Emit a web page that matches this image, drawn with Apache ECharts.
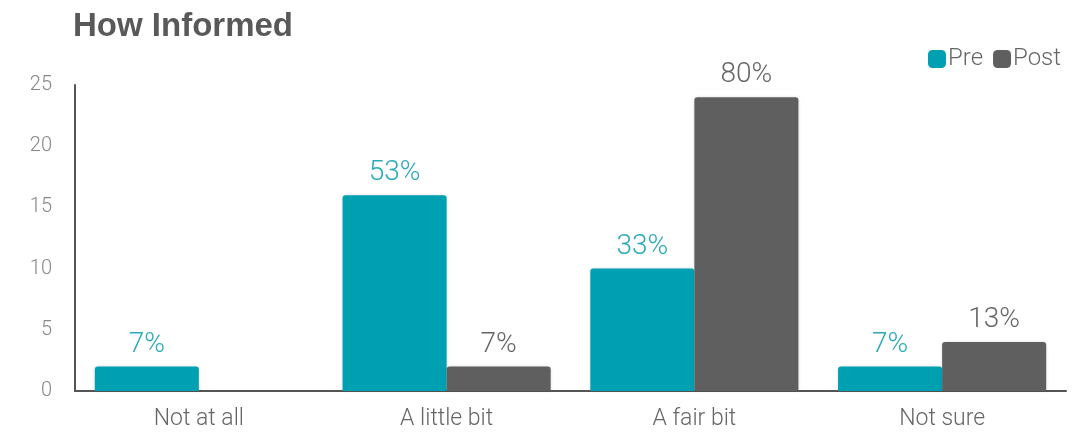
<!DOCTYPE html>
<html>
<head>
<meta charset="utf-8">
<script src="https://cdn.jsdelivr.net/npm/echarts@6/dist/echarts.min.js"></script>
<style>
  html, body { margin: 0; padding: 0; background: #fff; }
  #chart { width: 1080px; height: 437px; }
</style>
</head>
<body>
<div id="chart"></div>
<script>
// Responses to "How Informed", counts per answer
const categories = ['Not at all', 'A little bit', 'A fair bit', 'Not sure'];
const preCounts = [2, 16, 10, 2];
const postCounts = [0, 2, 24, 4];
const yTicks = { min: 0, max: 25, interval: 5 };

const sum = arr => arr.reduce((a, b) => a + b, 0);
const pct = (v, total) => Math.round(v / total * 100) + '%';
const preTotal = sum(preCounts);
const postTotal = sum(postCounts);

const TEAL = '#00A0B3';
const GREY = '#5F5F5F';
const FONT = 'Roboto';

const chart = echarts.init(document.getElementById('chart'));
chart.setOption({
  animation: false,
  title: {
    text: 'How Informed',
    left: 68,
    top: 5,
    textStyle: { fontFamily: 'Liberation Sans', fontWeight: 'bold', fontSize: 33, color: '#595959' }
  },
  legend: {
    data: ['Pre', 'Post'],
    right: 14,
    top: 42,
    itemWidth: 18,
    itemHeight: 18,
    itemGap: 10,
    icon: 'roundRect',
    textStyle: { fontFamily: FONT, fontWeight: 300, fontSize: 24, color: '#666', padding: [0, 0, 0, -3] }
  },
  grid: { left: 75, right: 14, top: 85, bottom: 46, containLabel: false },
  xAxis: {
    type: 'category',
    data: categories,
    axisLine: { lineStyle: { color: '#555', width: 2 } },
    axisTick: { show: false },
    axisLabel: { fontFamily: FONT, fontWeight: 300, fontSize: 23, color: '#666', margin: 17 }
  },
  yAxis: {
    type: 'value',
    min: yTicks.min,
    max: yTicks.max,
    interval: yTicks.interval,
    axisLine: { show: true, lineStyle: { color: '#555', width: 2 } },
    axisTick: { show: false },
    splitLine: { show: false },
    axisLabel: { fontFamily: FONT, fontWeight: 300, fontSize: 20, color: '#888', margin: 23 }
  },
  series: [
    {
      name: 'Pre',
      type: 'bar',
      data: preCounts,
      barGap: '0%',
      barCategoryGap: '16%',
      itemStyle: { color: TEAL, borderRadius: [3, 3, 0, 0], shadowColor: 'rgba(0,0,0,0.15)', shadowBlur: 3 },
      label: {
        show: true,
        position: 'top',
        distance: 8,
        formatter: p => pct(p.value, preTotal),
        fontFamily: FONT, fontWeight: 300, fontSize: 28, color: '#2AA9B8'
      }
    },
    {
      name: 'Post',
      type: 'bar',
      data: postCounts.map(v => ({ value: v, label: { show: v > 0 } })),
      itemStyle: { color: GREY, borderRadius: [3, 3, 0, 0], shadowColor: 'rgba(0,0,0,0.15)', shadowBlur: 3 },
      label: {
        show: true,
        position: 'top',
        distance: 8,
        formatter: p => pct(p.value, postTotal),
        fontFamily: FONT, fontWeight: 300, fontSize: 28, color: '#666'
      }
    }
  ]
});
</script>
</body>
</html>
